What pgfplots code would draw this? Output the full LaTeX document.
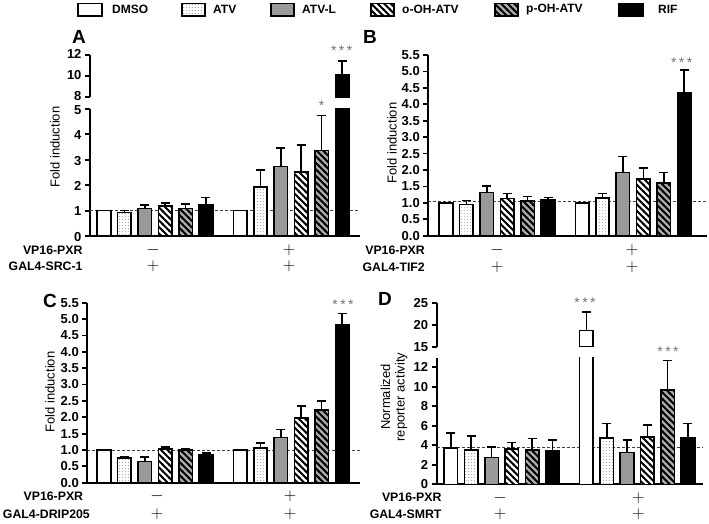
\documentclass[border=0pt]{standalone}
\usepackage{fontspec}
\setmainfont{Liberation Sans}
\usepackage{pgfplots}
\pgfplotsset{compat=1.18}
\usetikzlibrary{patterns}

% sparse dots for ATV, diagonal stripes for the hydroxy metabolites
\pgfdeclarepatternformonly{sdots}{\pgfqpoint{0pt}{0pt}}{\pgfqpoint{3.2pt}{3.2pt}}{\pgfqpoint{3.2pt}{3.2pt}}%
{\pgfpathcircle{\pgfqpoint{1.6pt}{1.6pt}}{0.6pt}\pgfusepath{fill}}
\pgfdeclarepatternformonly{nwl}{\pgfqpoint{-1pt}{-1pt}}{\pgfqpoint{7.5pt}{7.5pt}}{\pgfqpoint{6.5pt}{6.5pt}}%
{\pgfsetlinewidth{2pt}\pgfpathmoveto{\pgfqpoint{-1pt}{7.5pt}}\pgfpathlineto{\pgfqpoint{7.5pt}{-1pt}}\pgfusepath{stroke}}

\newcommand\tlfont{\bfseries\fontsize{12.3}{14}\selectfont}
\newcommand\tkfont{\bfseries\fontsize{13}{15}\selectfont}
\newcommand\legfont{\bfseries\fontsize{12}{14}\selectfont}
\newcommand\ylfont{\fontsize{13}{14.5}\selectfont}
\newcommand\pmfont{\fontsize{18}{18}\selectfont}
\newcommand\stars{*\hspace{2.5pt}*\hspace{2.5pt}*}

\pgfplotsset{
  panel/.style={scale only axis, enlargelimits=false, axis lines=left,
    axis line style={-, line width=1.9pt}, xtick=\empty, ytick pos=left,
    tick align=outside, major tick length=5pt, tick style={line width=1.8pt, black},
    yticklabel={\pgfmathprintnumber{\tick}}, yticklabel style={font=\tkfont},
    /pgf/number format/assume math mode=true},
  top/.style={panel, axis x line=none},
  onedec/.style={yticklabel style={/pgf/number format/.cd, fixed, fixed zerofill, precision=1}},
  bars/.style={ybar, bar width=13.5pt, bar shift=0pt, draw=black, line width=1.6pt,
    error bars/y dir=plus, error bars/y explicit,
    error bars/error bar style={line width=1.6pt, black, solid},
    error bars/error mark options={rotate=90, line width=1.6pt, black, mark size=4.5pt}},
  dmso/.style={fill=white},
  atv/.style={preaction={fill=white}, pattern=sdots, pattern color=black!50},
  atvl/.style={fill=black!40},
  ooh/.style={preaction={fill=white}, pattern=nwl, pattern color=black},
  poh/.style={preaction={fill=black!33}, pattern=nwl, pattern color=black},
  rif/.style={fill=black},
  ref/.style={black!75, line width=0.9pt, dash pattern=on 3pt off 2pt, forget plot},
}

\begin{document}
\begin{tikzpicture}
\path[use as bounding box] (0pt,0pt) rectangle (709pt,523pt);

% ---------- A ----------
\begin{axis}[panel, at={(90pt,287pt)}, anchor=south west, width=270pt, height=127pt,
  xmin=-0.686, xmax=12.55, ymin=0, ymax=5, ytick={0,1,2,3,4,5},
  yticklabel style={yshift=-0.8pt}]
\addplot[ref] coordinates {(-0.686,1) (12.55,1)};
\addplot[bars, dmso] coordinates {(0,1) +- (0,0) (6.67,1) +- (0,0)};
\addplot[bars, atv]  coordinates {(1,0.93) +- (0,0.07) (7.67,1.92) +- (0,0.68)};
\addplot[bars, atvl] coordinates {(2,1.09) +- (0,0.12) (8.67,2.74) +- (0,0.73)};
\addplot[bars, ooh]  coordinates {(3,1.19) +- (0,0.12) (9.67,2.53) +- (0,1.06)};
\addplot[bars, poh]  coordinates {(4,1.09) +- (0,0.17) (10.67,3.37) +- (0,1.37)};
\addplot[bars, rif]  coordinates {(5,1.23) +- (0,0.28) (11.67,10.17) +- (0,1.28)};
\end{axis}
\begin{axis}[top, at={(90pt,425.7pt)}, anchor=south west, width=270pt, height=42.3pt,
  xmin=-0.686, xmax=12.55, ymin=8, ymax=12, ytick={8,10,12},
  yticklabel style={yshift=1.2pt}]
\addplot[bars, rif] coordinates {(11.67,10.17) +- (0,1.28)};
\end{axis}

% ---------- B ----------
\begin{axis}[panel, onedec, at={(428.3pt,287.3pt)}, anchor=south west, width=278.7pt, height=180.7pt,
  xmin=-0.868, xmax=12.79, ymin=0, ymax=5.5, ytick={0,0.5,...,5.5}]
\addplot[ref] coordinates {(-0.868,1.04) (12.79,1.04)};
\addplot[bars, dmso] coordinates {(0,1) +- (0,0) (6.67,1) +- (0,0)};
\addplot[bars, atv]  coordinates {(1,0.95) +- (0,0.12) (7.67,1.15) +- (0,0.14)};
\addplot[bars, atvl] coordinates {(2,1.31) +- (0,0.21) (8.67,1.92) +- (0,0.49)};
\addplot[bars, ooh]  coordinates {(3,1.13) +- (0,0.16) (9.67,1.72) +- (0,0.34)};
\addplot[bars, poh]  coordinates {(4,1.06) +- (0,0.13) (10.67,1.61) +- (0,0.31)};
\addplot[bars, rif]  coordinates {(5,1.08) +- (0,0.08) (11.67,4.34) +- (0,0.71)};
\end{axis}

% ---------- C ----------
\begin{axis}[panel, onedec, at={(87.3pt,40.3pt)}, anchor=south west, width=272.7pt, height=180pt,
  xmin=-0.82, xmax=12.55, ymin=0, ymax=5.5, ytick={0,0.5,...,5.5}]
\addplot[ref] coordinates {(-0.82,1) (12.55,1)};
\addplot[bars, dmso] coordinates {(0,1) +- (0,0) (6.67,1) +- (0,0)};
\addplot[bars, atv]  coordinates {(1,0.76) +- (0,0.02) (7.67,1.06) +- (0,0.15)};
\addplot[bars, atvl] coordinates {(2,0.65) +- (0,0.14) (8.67,1.38) +- (0,0.24)};
\addplot[bars, ooh]  coordinates {(3,1.03) +- (0,0.07) (9.67,1.97) +- (0,0.38)};
\addplot[bars, poh]  coordinates {(4,1.0) +- (0,0.05) (10.67,2.23) +- (0,0.26)};
\addplot[bars, rif]  coordinates {(5,0.84) +- (0,0.06) (11.67,4.84) +- (0,0.33)};
\end{axis}

% ---------- D ----------
\begin{axis}[panel, at={(436.7pt,38.7pt)}, anchor=south west, width=266.3pt, height=126.8pt,
  xmin=-0.70, xmax=12.41, ymin=0, ymax=13, ytick={0,2,...,12}]
\addplot[ref] coordinates {(-0.70,3.77) (12.41,3.77)};
\addplot[bars, dmso] coordinates {(0,3.7) +- (0,1.54) (6.67,18.64) +- (0,4.26)};
\addplot[bars, atv]  coordinates {(1,3.5) +- (0,1.47) (7.67,4.73) +- (0,1.5)};
\addplot[bars, atvl] coordinates {(2,2.74) +- (0,1.1) (8.67,3.25) +- (0,1.27)};
\addplot[bars, ooh]  coordinates {(3,3.6) +- (0,0.68) (9.67,4.83) +- (0,1.27)};
\addplot[bars, poh]  coordinates {(4,3.5) +- (0,1.19) (10.67,9.69) +- (0,3.0)};
\addplot[bars, rif]  coordinates {(5,3.46) +- (0,1.09) (11.67,4.73) +- (0,1.5)};
\end{axis}
\begin{axis}[top, at={(436.7pt,176.3pt)}, anchor=south west, width=266.3pt, height=44pt,
  xmin=-0.70, xmax=12.41, ymin=15, ymax=25, ytick={15,20,25}]
\addplot[bars, dmso] coordinates {(6.67,18.64) +- (0,4.26)};
\end{axis}

\begin{scope}[x=1pt, y=1pt]
% legend
\draw[line width=1.3pt, fill=white] (78,507) rectangle (102,519.7);
\node[anchor=west, inner sep=0, font=\legfont] at (112,513.3) {DMSO};
\draw[line width=1.3pt, preaction={fill=white}, pattern=sdots, pattern color=black!50] (182,507) rectangle (205,519.7);
\node[anchor=west, inner sep=0, font=\legfont] at (213,513.3) {ATV};
\draw[line width=1.3pt, fill=black!40] (271,507) rectangle (294,519.7);
\node[anchor=west, inner sep=0, font=\legfont] at (302,513.3) {ATV-L};
\draw[line width=1.3pt, preaction={fill=white}, pattern=nwl] (371,507) rectangle (394,519.7);
\node[anchor=west, inner sep=0, font=\legfont] at (402,513.3) {o-OH-ATV};
\draw[line width=1.3pt, preaction={fill=black!33}, pattern=nwl] (495,507) rectangle (518,519.7);
\node[anchor=west, inner sep=0, font=\legfont] at (526,513.3) {p-OH-ATV};
\draw[line width=1.3pt, fill=black] (619,507) rectangle (643,519.7);
\node[anchor=west, inner sep=0, font=\legfont] at (658,513.3) {RIF};

% panel letters
\begin{scope}[every node/.style={anchor=base west, inner sep=0, font=\bfseries\fontsize{19}{19}\selectfont}]
\node at (72,479) {A};
\node at (363,479) {B};
\node at (43,216) {C};
\node at (378,218) {D};
\end{scope}

% axis titles
\node[rotate=90, font=\ylfont] at (55,376) {Fold induction};
\node[rotate=90, font=\ylfont] at (392,380) {Fold induction};
\node[rotate=90, font=\ylfont] at (50,131) {Fold induction};
\node[rotate=90, font=\ylfont, align=center] at (394,126) {Normalized\\reporter activity};

% significance
\begin{scope}[every node/.style={inner sep=0, text=black!55, font=\fontsize{14}{14}\selectfont}]
\node at (341.7,472) {\stars};
\node at (321.7,417) {*};
\node at (681.7,460) {\stars};
\node at (343,218.3) {\stars};
\node at (585,220) {\stars};
\node at (668,171) {\stars};
\end{scope}

% construct rows
\begin{scope}[every node/.style={inner sep=0}]
\node[anchor=east, font=\tlfont] at (82.7,273) {VP16-PXR};
\node[anchor=east, font=\tlfont] at (82.7,256.5) {GAL4-SRC-1};
\node[font=\pmfont] at (153,273) {$-$};
\node[font=\pmfont] at (153,256.5) {$+$};
\node[font=\pmfont] at (289,273) {$+$};
\node[font=\pmfont] at (289,256.5) {$+$};

\node[anchor=east, font=\tlfont] at (425,272.5) {VP16-PXR};
\node[anchor=east, font=\tlfont] at (425,255.5) {GAL4-TIF2};
\node[font=\pmfont] at (497,272.5) {$-$};
\node[font=\pmfont] at (497,255.5) {$+$};
\node[font=\pmfont] at (632,272.5) {$+$};
\node[font=\pmfont] at (632,255.5) {$+$};

\node[anchor=east, font=\tlfont] at (83.3,27) {VP16-PXR};
\node[anchor=east, font=\tlfont] at (90,9) {GAL4-DRIP205};
\node[font=\pmfont] at (157,27) {$-$};
\node[font=\pmfont] at (157,9) {$+$};
\node[font=\pmfont] at (290,27) {$+$};
\node[font=\pmfont] at (290,9) {$+$};

\node[anchor=east, font=\tlfont] at (441.7,25.3) {VP16-PXR};
\node[anchor=east, font=\tlfont] at (441.7,8.7) {GAL4-SMRT};
\node[font=\pmfont] at (500,25.3) {$-$};
\node[font=\pmfont] at (500,8.7) {$+$};
\node[font=\pmfont] at (638.3,25.3) {$+$};
\node[font=\pmfont] at (638.3,8.7) {$+$};
\end{scope}
\end{scope}
\end{tikzpicture}
\end{document}
